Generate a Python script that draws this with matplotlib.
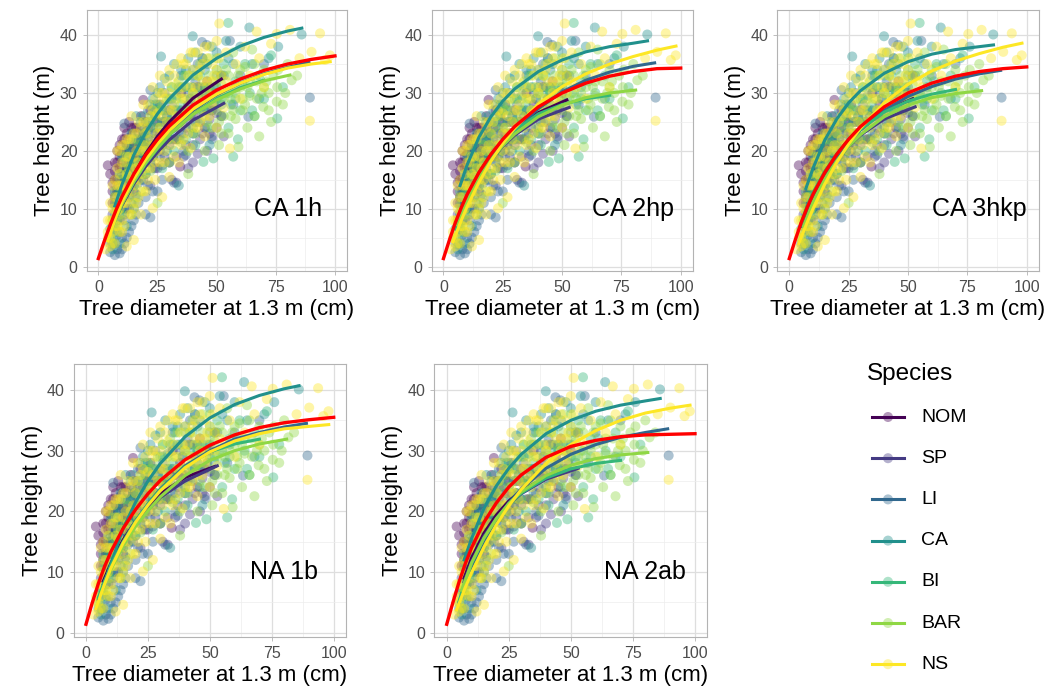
import matplotlib.pyplot as plt

plt.rcParams['font.family'] = ['Liberation Sans', 'DejaVu Sans']

###############################################################################
############################ data #########################
###############################################################################

species = ['NOM', 'SP', 'LI', 'CA', 'BI', 'BAR', 'NS']
colours = ['#440154', '#443A83', '#31688E', '#21908C', '#35B779', '#8FD744', '#FDE725']

#measured trees: (diameter at 1.3 m in cm, height in m)
nom_pts = [(4, 17.5), (5, 16), (6, 14.5), (7, 18), (7, 12), (8, 20), (8, 15), (9, 13), (9, 17),
           (10, 19.5), (10, 22), (11, 16), (11, 24), (12, 18), (12, 21), (13, 14.5), (13, 25),
           (14, 19), (14, 22.5), (15, 17), (15, 24), (16, 20), (17, 23), (18, 26), (18, 18),
           (19, 28.8), (20, 21), (21, 24), (22, 27), (23, 19), (25, 25), (26, 28), (28, 23),
           (30, 27), (32, 25), (34.6, 17.3), (35, 30), (38, 28), (40, 26), (42, 31), (44, 29),
           (46, 32), (48, 27), (50, 30), (52, 33),
           (6, 11), (7, 15), (8, 18), (9, 21), (9, 11), (10, 13), (10, 17), (11, 20), (12, 15),
           (12, 23), (13, 18), (14, 16), (15, 20.5), (16, 24), (16, 15), (17, 19), (18, 22),
           (20, 25), (22, 20), (24, 23), (27, 21), (29, 25), (33, 22), (36, 26), (45, 24),
           (6, 13), (7, 16.5), (8, 13), (9, 19), (10, 15), (11, 22), (12, 17), (13, 21), (14, 24),
           (15, 19), (16, 17.5), (17, 21), (19, 23), (21, 19), (24, 26)]
sp_pts = [(6, 9), (7, 11), (8, 13.5), (9, 8), (10, 15), (11, 12), (12, 17), (13, 10), (14, 14),
          (15, 21), (16, 12.5), (17, 16), (18, 24), (19, 15), (20, 19), (21, 22), (22, 14),
          (24, 20), (25, 17), (26, 23), (28, 19), (29, 26), (30, 21), (31, 15), (32, 24),
          (33, 14.5), (34, 22), (35, 27), (36, 19), (37, 24), (38, 17), (39, 29), (40, 21),
          (41, 25), (42, 19.5), (43, 27), (44, 23), (45, 31), (46, 20), (47, 25.5), (48, 22.5),
          (49, 28), (50, 24), (52, 26), (53, 22.5),
          (8, 10), (9, 14), (10, 18), (11, 9), (12, 20), (13, 12), (14, 17.5), (15, 13), (16, 22),
          (17, 19), (19, 21), (20, 16), (22, 18), (23, 24), (25, 21), (27, 17.5), (28, 22),
          (31, 24.5), (33, 19), (36, 23), (38, 25.5), (40, 18), (43, 22), (46, 27), (50, 26.5),
          (12, 14), (15, 17), (18, 20), (20, 23), (22, 21), (24, 17), (26, 20), (28, 25), (30, 18),
          (32, 22), (34, 26), (37, 21), (40, 23), (43, 25), (47, 23)]
li_pts = [(5, 2.5), (6, 4), (7, 6.5), (7, 2), (8, 3), (9, 2.3), (9, 10), (10, 5), (11, 24.7),
          (11, 8), (12, 13), (13, 6), (14, 11), (15, 18), (16, 9), (17, 14.5), (18, 21), (20, 12),
          (21, 27), (22, 30.5), (22, 8.5), (23, 17), (24, 22), (25, 13), (26, 19), (27, 25),
          (28, 30), (30, 22), (32, 14.5), (33, 27), (35, 33), (36, 20), (37, 19.3), (38, 30),
          (40, 24), (42, 35), (43.8, 38.8), (45.8, 38.3), (45, 28), (48, 22), (50, 31), (52, 26),
          (55.6, 39.0), (60, 33), (63.4, 25.9), (70, 35), (89.4, 29.2),
          (6, 7), (8, 5.5), (9, 13), (10, 16), (11, 4), (12, 10), (13, 20), (14, 7), (15, 14),
          (17, 11), (18, 17), (19, 23.5), (20, 9), (23, 13), (25, 27), (27, 15), (29, 22),
          (31, 28), (34, 25), (39, 26), (41, 32), (44, 36), (47, 30), (53, 33), (57, 28),
          (5, 4), (7, 4), (8, 8), (9, 6), (10, 3), (11, 10), (12, 5), (13, 15), (15, 8), (17, 16),
          (19, 19), (21, 14), (24, 25), (27, 22), (30, 18)]
ca_pts = [(5, 6.5), (6, 3), (7, 9), (8, 11), (9, 4), (10, 14), (11, 20), (12, 7), (13, 17),
          (14, 23), (15, 10), (16, 19.5), (18, 15), (19, 26), (20, 22.5), (22, 18), (23, 29),
          (25, 24), (26.5, 36.3), (27, 27), (29, 20), (30, 33), (31, 25.5), (33, 29.5), (34, 14),
          (35, 23), (37, 31), (39.9, 39.8), (40, 34), (42, 27.5), (44, 36), (45, 30), (47, 21),
          (48, 38), (50, 33), (52, 28), (55, 36), (58, 31), (60, 38), (63.8, 41.3), (65, 35),
          (68, 29), (72, 36), (76, 38), (85.9, 40.1),
          (6, 5), (7, 12), (8, 8), (9, 15), (10, 10), (11, 17), (12, 21), (13, 13), (15, 16),
          (17, 22), (18, 25), (20, 19), (21, 25), (24, 28), (26, 31), (28, 32.5), (32, 35),
          (35, 34), (38, 36), (41, 37), (43, 31), (46, 35), (50, 37), (54, 39), (57, 35),
          (7, 10.5), (9, 13), (10, 19), (12, 18), (14, 20), (16, 26), (19, 22), (22, 28), (25, 30),
          (28, 27), (31, 29), (34, 31), (37, 34), (40, 31), (45, 34)]
bi_pts = [(5, 5), (6, 8), (7, 13), (8, 6), (9, 16), (10, 9), (11, 19), (12, 12), (14, 21.5),
          (15, 14), (17, 18), (19, 23), (20, 16), (22, 25), (24, 20), (25, 28), (27, 17), (28, 23),
          (30, 29), (32, 20), (33, 24.5), (35, 31), (37, 22), (38, 27), (40, 33), (42, 25),
          (44.4, 18.1), (45, 30), (47, 27), (48.6, 18.7), (50, 34), (52, 29), (54.9, 42.1),
          (55, 24), (57, 19), (58, 32), (60, 27), (62, 35), (64, 30), (66, 26), (68, 33),
          (70, 29), (73, 36.5), (75.6, 25.6), (78, 31),
          (6, 4), (7, 7), (8, 10), (10, 13), (12, 16), (13, 19), (16, 12), (18, 20), (21, 21),
          (23, 26), (26, 22), (29, 26), (31, 31), (34, 27), (36, 33), (39, 29), (41, 21),
          (43, 33), (46, 24), (49, 31), (53, 35), (56, 28), (59, 22), (61, 32), (65, 27),
          (9, 12), (11, 15), (14, 18), (16, 22), (19, 19), (22, 23), (24, 27), (27, 25), (30, 22),
          (32, 27), (35, 28), (38, 31), (40, 23), (42, 30), (44, 27), (47, 31), (50, 29), (52, 33),
          (55, 30), (58, 29)]
bar_pts = [(8, 7), (10, 11), (12, 15.5), (14, 9), (16, 18), (18, 13), (20, 21), (22, 16.5),
           (24, 26), (25, 11), (27, 21), (29, 29), (30, 18), (32, 25), (34, 32), (35, 21.5),
           (37, 27), (38, 16), (40, 30), (41, 23), (43, 35), (44, 26.5), (45, 20), (46, 31),
           (48, 24), (49, 28.5), (50, 36), (51, 21), (52, 31.5), (53, 26), (54, 34), (55, 23),
           (56, 29), (57, 37), (58, 25.5), (59.2, 20.7), (60, 31), (61, 27), (62, 34.5), (63, 24),
           (64, 29.5), (65, 37.5), (66, 26), (67, 32), (68, 22.5), (69.7, 27.6), (70, 34),
           (72, 30), (73, 25), (74, 33), (75.4, 28.5), (75.6, 31.0), (78, 28), (80, 35),
           (81.7, 32.2),
           (9, 9), (11, 13), (13, 17), (15, 11), (17, 21), (19, 16), (21, 24), (23, 19), (26, 27),
           (28, 23), (31, 31), (33, 22), (36, 29), (39, 24), (42, 33), (45, 28), (47, 33),
           (50, 27), (52, 23), (54, 30), (57, 27), (59, 33), (61, 29), (63, 31), (66, 35),
           (69, 30), (71, 32), (76, 34), (79, 30), (84, 33),
           (25, 24), (27, 28), (30, 25), (33, 29), (35, 26), (37, 33), (38, 20), (40, 27), (42, 29),
           (44, 31), (46, 25), (47, 36), (48, 30), (50, 32), (51, 25), (53, 29), (55, 33), (56, 26),
           (58, 30), (60, 34), (62, 28), (64, 32), (67, 29), (70, 31), (72, 27)]
ns_pts = [(3, 3), (4, 5), (4, 8), (5, 3.5), (5, 11), (6, 6), (6, 14), (7, 4), (7, 9.5), (8, 12),
          (8, 17), (9, 6), (9, 20), (10, 8), (10, 14), (11, 11), (11, 18), (12, 3.5), (12, 22),
          (13, 9), (13, 15.5), (14, 13), (14, 26), (15, 4.6), (15, 19), (16, 11), (16, 23),
          (17, 15), (18, 9), (18, 20), (19, 25), (20, 13), (20, 17), (21, 28), (22, 22),
          (23, 10.1), (23, 31), (24, 15), (25, 20), (25, 26.5), (26, 33), (27, 12), (27, 23),
          (28, 18), (28, 29), (29, 25), (30, 34), (30, 15.5), (31, 21), (32, 28), (33, 31.5),
          (34, 18), (35, 25), (35, 36), (36, 22), (37, 29), (38, 33), (39, 20.5), (40, 27),
          (40, 37), (41, 31), (42, 24), (43, 34), (44, 28), (45, 22.5), (45, 38), (46, 32),
          (47, 26), (48, 35), (49, 29.5), (50, 24), (50, 39), (51.1, 42), (52, 33), (53, 27.5),
          (54, 37), (55.6, 20.4), (56, 31), (58, 35), (60, 29), (62, 38), (64, 33), (66.9, 40.6),
          (68, 36), (70, 31), (73, 38.5), (75.4, 40.2), (81, 40.9), (85, 36), (89.4, 25.2),
          (90.1, 37.1), (93.7, 40.3), (95.8, 35.7), (97.9, 36.5),
          (4, 6), (5, 8), (6, 10), (6, 4), (7, 12), (7, 15), (8, 7), (8, 20), (9, 10), (9, 14),
          (10, 11), (10, 18), (11, 7), (11, 21), (12, 13), (12, 16), (13, 12), (13, 19), (14, 9),
          (14, 22), (15, 15), (16, 17), (16, 20), (17, 12), (17, 25), (18, 16), (19, 21),
          (19, 28), (20, 23), (21, 15), (21, 19), (22, 26), (23, 21), (24, 29), (24, 18),
          (26, 24), (27, 30), (28, 20), (29, 32), (30, 27), (31, 24), (32, 33), (33, 26),
          (34, 30), (35, 21), (36, 35), (37, 27), (38, 23), (39, 31), (40, 34), (41, 28),
          (42, 37), (43, 25), (44, 32), (46, 36), (47, 29), (48, 32), (50, 34), (52, 30), (54, 32),
          (5, 5), (6, 8), (7, 7), (8, 9.5), (8, 14), (9, 16), (10, 6), (10, 21), (11, 14), (12, 11),
          (12, 19), (13, 22), (14, 17), (15, 10), (15, 23), (16, 14), (17, 18), (18, 24), (19, 13),
          (20, 20), (21, 25), (22, 17), (23, 27), (24, 21), (25, 23), (26, 18), (26, 30), (27, 26),
          (29, 22), (30, 30), (31, 27), (32, 19), (33, 35), (34, 24), (35, 29), (36, 31), (37, 35),
          (38, 26), (39, 37), (40, 30), (41, 24), (42, 33), (43, 29), (44, 35), (45, 26), (46, 30),
          (47, 38), (48, 28), (49, 33), (51, 36)]
point_sets = [nom_pts, sp_pts, li_pts, ca_pts, bi_pts, bar_pts, ns_pts]

#diameters at which the fitted curves were read
nom_d = [7, 10, 15, 20, 25, 30, 40, 52]
sp_d = [7, 10, 15, 20, 25, 30, 40, 53]
li_d = [5, 7.5, 10, 15, 20, 25, 30, 40, 50, 60, 70, 80, 89]
ca_d = [7, 10, 15, 20, 25, 30, 40, 50, 60, 70, 80, 86]
bi_d = [5, 7.5, 10, 15, 20, 25, 30, 40, 50, 60, 70]
bar_d = [6, 10, 15, 20, 25, 30, 40, 50, 60, 70, 81]
ns_d = [4, 7.5, 10, 15, 20, 25, 30, 40, 50, 60, 70, 80, 90, 98]
all_d = [0, 2.5, 5, 7.5, 10, 15, 20, 25, 30, 40, 50, 60, 70, 80, 90, 100]
curve_d = [nom_d, sp_d, li_d, ca_d, bi_d, bar_d, ns_d]

#fitted heights per model (species order as above, then the common red curve)
fit_ca1h = [[8.5, 11.4, 15.8, 19.5, 22.5, 25.0, 29.1, 32.4],
            [8.0, 10.6, 14.3, 17.3, 19.8, 21.9, 25.3, 28.2],
            [6.5, 9.0, 11.3, 15.1, 18.3, 21.0, 23.3, 27.0, 29.7, 31.7, 33.3, 34.4, 35.3],
            [10.5, 14.2, 19.3, 23.2, 26.4, 29.0, 33.1, 36.0, 38.1, 39.6, 40.7, 41.2],
            [6.2, 8.6, 10.9, 14.6, 17.8, 20.4, 22.7, 26.3, 29.0, 30.9, 32.2],
            [6.8, 10.8, 14.7, 17.9, 20.5, 22.8, 26.3, 28.8, 30.7, 32.1, 33.1],
            [4.5, 8.7, 11.2, 15.2, 18.5, 21.2, 23.5, 27.2, 29.8, 31.7, 33.2, 34.3, 35.0, 35.4]]
all_ca1h = [1.4, 4.4, 7.2, 9.8, 12.1, 16.0, 19.3, 22.0, 24.3, 27.9, 30.5, 32.4, 33.9, 35.0, 35.8, 36.4]

fit_ca2hp = [[9.5, 12.3, 16.2, 19.3, 21.8, 23.8, 26.6, 28.8],
             [8.8, 11.5, 15.3, 18.4, 20.8, 22.7, 25.5, 27.5],
             [6.8, 9.4, 11.6, 15.4, 18.6, 21.3, 23.6, 27.3, 30.2, 32.2, 33.6, 34.6, 35.2],
             [14.0, 17.6, 22.4, 25.9, 28.6, 30.7, 33.7, 35.7, 37.1, 38.0, 38.6, 39.0],
             [6.5, 9.6, 12.0, 15.9, 19.0, 21.5, 23.5, 26.4, 28.0, 29.0, 29.6],
             [7.2, 11.4, 15.3, 18.4, 20.9, 22.9, 25.9, 27.9, 29.2, 30.0, 30.5],
             [4.3, 8.0, 10.4, 14.6, 18.2, 21.3, 23.9, 28.1, 31.1, 33.3, 35.0, 36.3, 37.4, 38.1]]
all_ca2hp = [1.4, 4.6, 7.6, 10.2, 12.5, 16.3, 19.4, 22.0, 24.2, 27.6, 30.0, 31.7, 32.9, 33.7, 34.2, 34.3]

fit_ca3hkp = [[9.6, 12.4, 16.3, 19.4, 21.9, 24.0, 26.9, 29.0],
              [9.0, 11.7, 15.4, 18.4, 20.8, 22.7, 25.5, 27.6],
              [7.0, 9.6, 11.9, 15.7, 18.8, 21.4, 23.6, 27.0, 29.4, 31.1, 32.4, 33.3, 33.9],
              [13.5, 17.0, 21.9, 25.5, 28.3, 30.4, 33.4, 35.4, 36.7, 37.5, 38.0, 38.3],
              [7.5, 10.5, 12.8, 16.5, 19.4, 21.8, 23.7, 26.7, 28.6, 29.8, 30.6],
              [7.0, 11.2, 15.2, 18.3, 20.8, 22.8, 25.9, 27.9, 29.2, 29.9, 30.4],
              [4.0, 7.6, 10.0, 14.3, 18.0, 21.2, 23.9, 28.3, 31.5, 33.8, 35.5, 36.8, 37.9, 38.6]]
all_ca3hkp = [1.4, 4.6, 7.6, 10.2, 12.5, 16.3, 19.4, 22.0, 24.2, 27.6, 30.0, 31.7, 32.9, 33.7, 34.2, 34.5]

fit_na1b = [[8.5, 11.4, 15.3, 18.4, 20.9, 22.9, 25.6, 27.4],
            [8.0, 10.8, 14.7, 17.8, 20.3, 22.3, 25.0, 27.5],
            [5.5, 8.3, 10.8, 14.9, 18.3, 21.2, 23.7, 27.5, 30.0, 31.9, 33.0, 33.9, 34.5],
            [7.5, 11.3, 17.2, 21.5, 25.0, 27.9, 32.3, 35.4, 37.6, 39.1, 40.2, 40.7],
            [5.8, 8.5, 11.0, 15.0, 18.4, 21.2, 23.6, 27.3, 29.8, 31.1, 31.9],
            [6.4, 10.4, 14.3, 17.5, 20.1, 22.4, 25.9, 28.4, 30.0, 31.1, 31.9],
            [4.0, 8.0, 10.6, 14.8, 18.2, 21.0, 23.4, 27.2, 29.8, 31.6, 32.8, 33.6, 34.0, 34.3]]
all_na1b = [1.4, 4.9, 8.1, 10.9, 13.3, 17.2, 20.3, 22.9, 25.1, 28.5, 30.9, 32.6, 33.8, 34.6, 35.1, 35.5]

fit_na2ab = [[9.0, 12.3, 16.4, 19.4, 21.7, 23.4, 25.6, 27.1],
             [8.4, 11.7, 15.9, 18.9, 21.2, 22.9, 25.3, 27.1],
             [5.0, 8.2, 10.9, 15.2, 18.6, 21.4, 23.7, 27.1, 29.4, 31.0, 32.2, 33.0, 33.6],
             [12.0, 15.5, 20.5, 24.2, 27.1, 29.4, 32.8, 35.0, 36.5, 37.5, 38.2, 38.6],
             [5.2, 8.6, 11.4, 15.6, 18.8, 21.2, 23.0, 25.5, 27.0, 27.9, 28.4],
             [7.0, 11.5, 15.6, 18.8, 21.3, 23.2, 25.9, 27.6, 28.7, 29.3, 29.7],
             [3.8, 7.5, 9.9, 14.1, 17.8, 20.9, 23.6, 27.9, 31.0, 33.3, 35.0, 36.2, 37.0, 37.5]]
all_na2ab = [1.4, 5.0, 8.4, 11.4, 14.0, 18.2, 21.4, 24.0, 26.0, 28.9, 30.7, 31.7, 32.3, 32.6, 32.7, 32.8]

###############################################################################
################################## plotting ###################################
###############################################################################

W, H = 1048, 696
fig = plt.figure(figsize=(W / 100, H / 100), dpi=100)

#place an axes from pixel edges (left, top, right, bottom)
def px_axes(x0, y0, x1, y1):
    return fig.add_axes([x0 / W, 1 - y1 / H, (x1 - x0) / W, (y1 - y0) / H])

def draw_panel(ax, fits, fit_all, label):
    for col, pts in zip(colours, point_sets):
        d = [p[0] for p in pts]
        h = [p[1] for p in pts]
        ax.scatter(d, h, s=52, color=col, alpha=0.4, edgecolors='none', zorder=2)
    for col, d, h in zip(colours, curve_d, fits):
        ax.plot(d, h, color=col, lw=2.2, zorder=3)
    ax.plot(all_d, fit_all, color='#FF0000', lw=2.4, zorder=4)
    ax.set_xlim(-5, 105)
    ax.set_ylim(-0.75, 44.35)
    ax.set_xticks([0, 25, 50, 75, 100])
    ax.set_yticks([0, 10, 20, 30, 40])
    ax.set_xticks([12.5, 37.5, 62.5, 87.5], minor=True)
    ax.set_yticks([5, 15, 25, 35], minor=True)
    ax.grid(which='major', color='#DEDEDE', lw=0.9)
    ax.grid(which='minor', color='#EDEDED', lw=0.5)
    ax.set_axisbelow(True)
    for s in ax.spines.values():
        s.set_color('#B3B3B3')
        s.set_linewidth(0.8)
    ax.tick_params(which='major', length=3, width=0.6, color='#B3B3B3',
                   labelsize=11.5, labelcolor='#4D4D4D', pad=3.5)
    ax.tick_params(which='minor', length=0)
    ax.set_xlabel('Tree diameter at 1.3 m (cm)', fontsize=16, labelpad=3)
    ax.set_ylabel('Tree height (m)', fontsize=16, labelpad=3)
    ax.text(80, 10, label, ha='center', va='center', fontsize=18)

panels = [((86.5, 9.9, 346.8, 271.0), fit_ca1h, all_ca1h, 'CA 1h'),
          ((431.6, 9.9, 692.6, 271.0), fit_ca2hp, all_ca2hp, 'CA 2hp'),
          ((777.4, 9.9, 1038.6, 271.0), fit_ca3hkp, all_ca3hkp, 'CA 3hkp'),
          ((73.6, 363.6, 346.1, 637.3), fit_na1b, all_na1b, 'NA 1b'),
          ((434.3, 363.6, 707.4, 637.3), fit_na2ab, all_na2ab, 'NA 2ab')]

for box, fits, fit_all, label in panels:
    draw_panel(px_axes(*box), fits, fit_all, label)

#legend drawn by hand in pixel coordinates
leg = fig.add_axes([0, 0, 1, 1])
leg.set_xlim(0, W)
leg.set_ylim(H, 0)
leg.axis('off')
leg.text(867, 374, 'Species', ha='left', va='center', fontsize=17.5)
for i, (sp, col) in enumerate(zip(species, colours)):
    y = 417 + i * 41.2
    leg.plot([872, 904], [y, y], color=col, lw=2.2)
    leg.scatter([888], [y], s=52, color=col, alpha=0.4, edgecolors='none')
    leg.text(921, y, sp, ha='left', va='center', fontsize=14)

plt.savefig('out.png', dpi=100)
